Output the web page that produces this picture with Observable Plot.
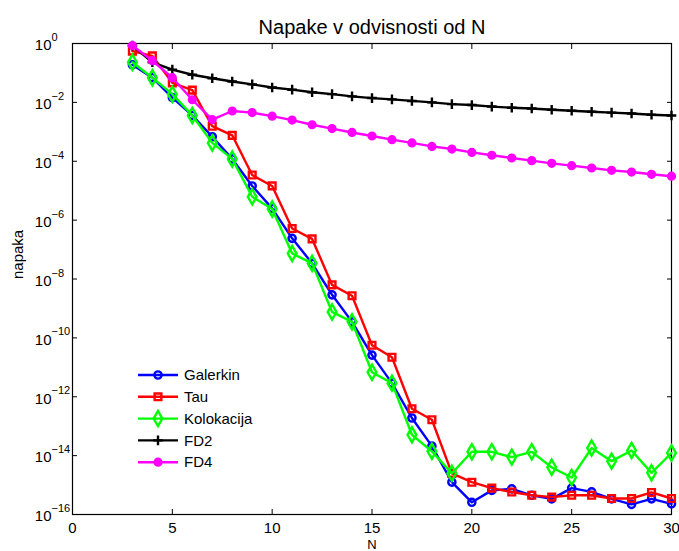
<!DOCTYPE html>
<html>
<head>
<meta charset="utf-8">
<script src="https://cdn.jsdelivr.net/npm/d3@7"></script>
<script src="https://cdn.jsdelivr.net/npm/@observablehq/plot@0.6"></script>
<style>
  html, body { margin: 0; padding: 0; background: #fff; }
  #chart { width: 679px; height: 551px; }
</style>
</head>
<body>
<div id="chart"></div>
<script>
const N = [3,4,5,6,7,8,9,10,11,12,13,14,15,16,17,18,19,20,21,22,23,24,25,26,27,28,29,30];

const galerkin = [1.9e-1,6.9e-2,1.45e-2,3.6e-3,6.8e-4,1.2e-4,1.45e-5,2.5e-6,2.4e-7,3.4e-8,2.9e-9,3.5e-10,2.6e-11,2.9e-12,1.9e-13,2.1e-14,1.25e-15,2.6e-16,6.6e-16,7.4e-16,4.5e-16,3.4e-16,7.9e-16,5.9e-16,3.4e-16,2.2e-16,3.4e-16,2.3e-16];
const tau = [5.5e-1,3.8e-1,4.6e-2,2.6e-2,1.55e-3,7.6e-4,3.4e-5,1.45e-5,5.2e-7,2.3e-7,6.3e-9,2.7e-9,5.6e-11,2.2e-11,3.9e-13,1.66e-13,2.5e-15,1.25e-15,7.9e-16,5.8e-16,4.5e-16,3.9e-16,4.5e-16,4.5e-16,3.5e-16,3.5e-16,5.6e-16,3.5e-16];
const kolokacija = [2.3e-1,6.9e-2,1.9e-2,3.6e-3,4.2e-4,1.2e-4,6.2e-6,2.4e-6,7.4e-8,3.4e-8,7.6e-10,3.5e-10,6.8e-12,2.9e-12,5.1e-14,1.4e-14,2.5e-15,1.35e-14,1.35e-14,8.9e-15,1.35e-14,4.0e-15,1.8e-15,1.8e-14,6.5e-15,1.5e-14,2.6e-15,1.23e-14];
const fd2 = [8.5e-1,2.3e-1,1.3e-1,8.7e-2,6.6e-2,5.1e-2,4.1e-2,3.2e-2,2.7e-2,2.2e-2,1.9e-2,1.6e-2,1.4e-2,1.26e-2,1.12e-2,1.0e-2,8.7e-3,8.1e-3,7.2e-3,6.6e-3,6.2e-3,5.6e-3,5.2e-3,4.8e-3,4.5e-3,4.2e-3,3.8e-3,3.6e-3];
const fd4 = [8.5e-1,2.6e-1,6.9e-2,1.23e-2,2.6e-3,5.1e-3,4.5e-3,3.4e-3,2.5e-3,1.74e-3,1.29e-3,9.5e-4,7.2e-4,5.4e-4,4.2e-4,3.2e-4,2.6e-4,2.0e-4,1.6e-4,1.29e-4,1.05e-4,8.5e-5,7.1e-5,5.9e-5,4.9e-5,4.3e-5,3.6e-5,3.1e-5];

const seriesNames = ["Galerkin", "Tau", "Kolokacija", "FD2", "FD4"];
const seriesValues = [galerkin, tau, kolokacija, fd2, fd4];
const seriesColors = ["#0000ff", "#ff0000", "#00ff00", "#000000", "#ff00ff"];
const seriesSymbols = ["circle", "square", "diamond", "plus", "circle"];
const seriesFilled = [false, false, false, false, true];
const seriesR = [3.6, 3.8, 4.6, 3.2, 3.4];

const xTicks = [0, 5, 10, 15, 20, 25, 30];
const yExponents = [0, -2, -4, -6, -8, -10, -12, -14, -16];
const yTicks = yExponents.map(e => Math.pow(10, e));

const titleText = "Napake v odvisnosti od N";
const xLabel = "N";
const yLabel = "napaka";

const FONT = "'Liberation Sans', Arial, Helvetica, sans-serif";

const lineMarks = [];
seriesNames.forEach((name, i) => {
  const rows = N.map((n, j) => ({n, v: seriesValues[i][j]}));
  lineMarks.push(Plot.line(rows, {x: "n", y: "v", stroke: seriesColors[i], strokeWidth: 2.4}));
  lineMarks.push(Plot.dot(rows, {
    x: "n", y: "v", symbol: seriesSymbols[i], r: seriesR[i],
    fill: seriesFilled[i] ? seriesColors[i] : "none",
    stroke: seriesColors[i], strokeWidth: 2.4
  }));
});

const plot = Plot.plot({
  width: 679,
  height: 551,
  marginLeft: 72,
  marginRight: 8,
  marginTop: 43,
  marginBottom: 37,
  style: {fontFamily: FONT, fontSize: "15px", color: "#000", background: "#fff", overflow: "visible"},
  x: {domain: [0, 30]},
  y: {type: "log", domain: [1e-16, 1]},
  marks: [
    Plot.frame({stroke: "#000", strokeWidth: 1.2}),
    Plot.axisX({anchor: "bottom", ticks: xTicks, tickSize: -5, tickFormat: () => "", label: null}),
    Plot.axisX({anchor: "top", ticks: xTicks, tickSize: -5, tickFormat: () => "", label: null}),
    Plot.axisY({anchor: "left", ticks: yTicks, tickSize: -5, tickFormat: () => "", label: null}),
    Plot.axisY({anchor: "right", ticks: yTicks, tickSize: -5, tickFormat: () => "", label: null}),
    Plot.text(xTicks, {x: d => d, text: d => String(d), frameAnchor: "bottom", lineAnchor: "top", dy: 8, fontSize: 15}),
    Plot.text(yExponents, {y: e => Math.pow(10, e), text: () => "10", frameAnchor: "left", textAnchor: "end", dx: -21, dy: 2, fontSize: 15}),
    Plot.text(yExponents, {y: e => Math.pow(10, e), text: e => (e < 0 ? "\u2212" + (-e) : String(e)), frameAnchor: "left", textAnchor: "start", dx: -21, dy: -6, fontSize: 11}),
    ...lineMarks,
    Plot.text([titleText], {text: d => d, frameAnchor: "top", dy: -24, fontSize: 20}),
    Plot.text([xLabel], {text: d => d, frameAnchor: "bottom", lineAnchor: "top", dy: 25, fontSize: 13}),
    Plot.text([yLabel], {text: d => d, frameAnchor: "left", dx: -54, rotate: -90, fontSize: 15})
  ]
});

document.getElementById("chart").appendChild(plot);

// Legend (inside the axes, lower-left, no box)
const svg = d3.select(plot);
const lg = svg.append("g").attr("font-family", FONT).attr("font-size", 15).attr("text-anchor", "start");
seriesNames.forEach((name, i) => {
  const y = 375 + i * 21.8;
  const g = lg.append("g").attr("transform", `translate(0,${y})`);
  g.append("line").attr("x1", 138).attr("x2", 178).attr("y1", 0).attr("y2", 0)
    .attr("stroke", seriesColors[i]).attr("stroke-width", 2.4);
  const sym = {circle: d3.symbolCircle, square: d3.symbolSquare, diamond: d3.symbolDiamond, plus: d3.symbolPlus}[seriesSymbols[i]];
  const r = seriesR[i];
  g.append("path").attr("transform", "translate(158,0)")
    .attr("d", d3.symbol(sym, Math.PI * r * r)())
    .attr("fill", seriesFilled[i] ? seriesColors[i] : "none")
    .attr("stroke", seriesColors[i]).attr("stroke-width", 2.4);
  g.append("text").attr("x", 184).attr("y", 0).attr("dy", "0.35em").attr("text-anchor", "start").attr("fill", "#000").text(name);
});
</script>
</body>
</html>
